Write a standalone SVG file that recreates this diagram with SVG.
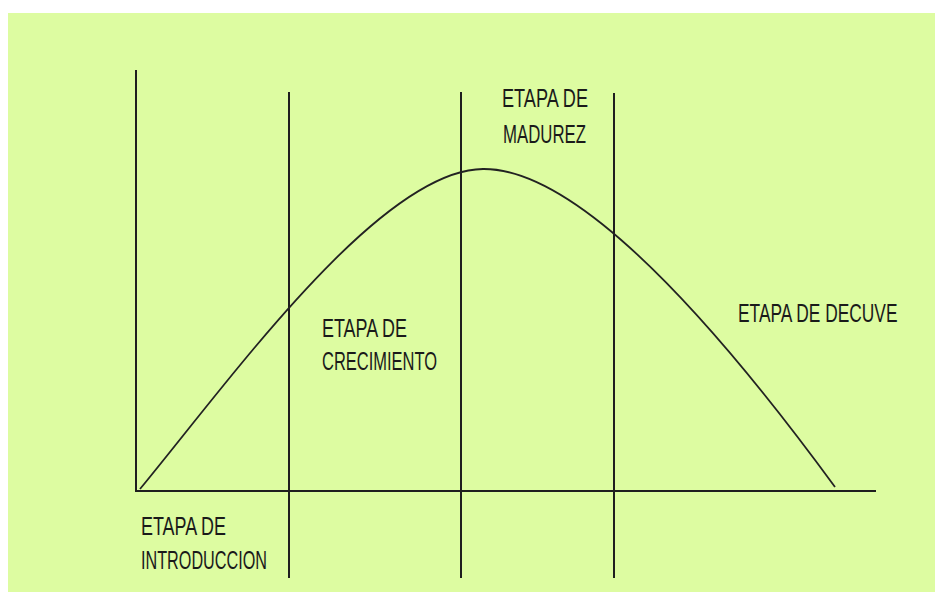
<svg xmlns="http://www.w3.org/2000/svg" width="935" height="592" viewBox="0 0 935 592">
<style>
.ax{stroke:#1e1e1e;stroke-width:2;fill:none}
.cv{stroke:#222;stroke-width:1.8;fill:none}
.t{font-family:"Liberation Sans",Arial,sans-serif;font-size:26px;fill:#1a1a1a}
</style>
<rect x="0" y="0" width="935" height="592" fill="#ffffff"/>
<rect x="8" y="13" width="927" height="579" fill="#ddfca1"/>
<g id="connectors">
<line class="ax" x1="136" y1="70" x2="136" y2="491"/>
<line class="ax" x1="135" y1="491" x2="876" y2="491"/>
<line class="ax" x1="289" y1="92" x2="289" y2="578"/>
<line class="ax" x1="461" y1="92" x2="461" y2="578"/>
<line class="ax" x1="614" y1="93" x2="614" y2="578"/>
<path class="cv" d="M140,489 C230,380 380,170 483,169 C580,168 720,330 835,487"/>
</g>
<g id="intro"><text class="t" x="141" y="535" textLength="85" lengthAdjust="spacingAndGlyphs">ETAPA DE</text><text class="t" x="141" y="569" textLength="126" lengthAdjust="spacingAndGlyphs">INTRODUCCION</text></g>
<g id="crecimiento"><text class="t" x="322" y="337" textLength="85" lengthAdjust="spacingAndGlyphs">ETAPA DE</text><text class="t" x="322" y="370" textLength="115" lengthAdjust="spacingAndGlyphs">CRECIMIENTO</text></g>
<g id="madurez"><text class="t" x="502" y="107" textLength="86" lengthAdjust="spacingAndGlyphs">ETAPA DE</text><text class="t" x="503" y="143" textLength="83" lengthAdjust="spacingAndGlyphs">MADUREZ</text></g>
<g id="declive"><text class="t" transform="translate(738,322) scale(0.668,1)" x="0" y="0">ETAPA DE DECUVE</text></g>
</svg>
